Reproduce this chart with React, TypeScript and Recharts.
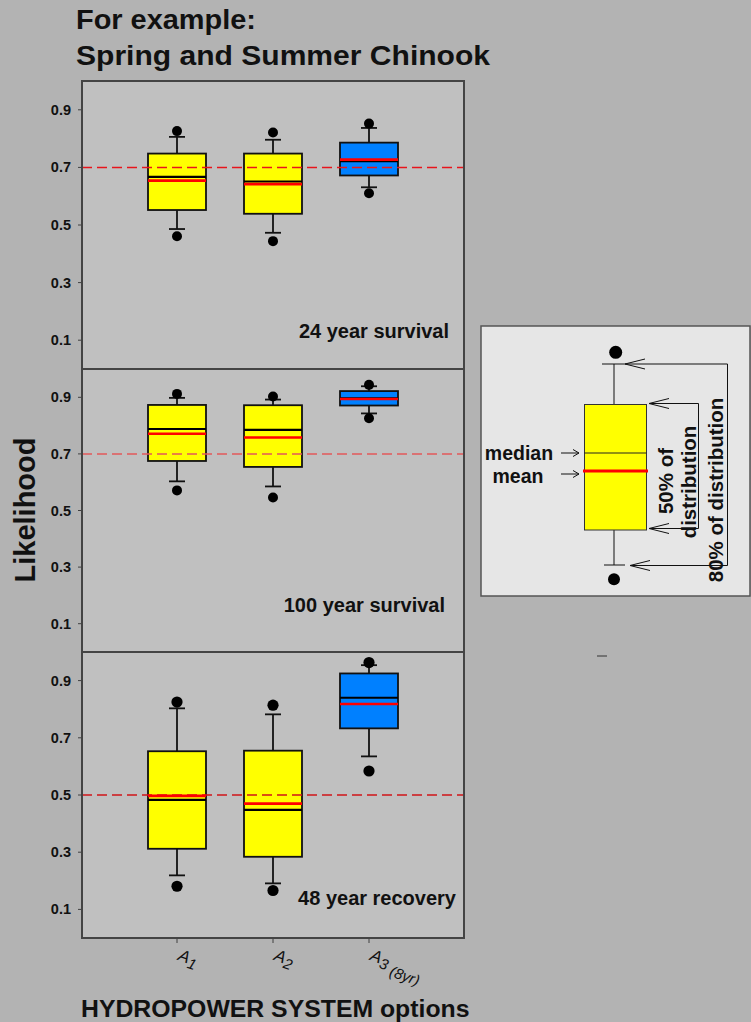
import { ComposedChart, Bar, Scatter, XAxis, YAxis, ReferenceLine } from "recharts"

// Drei gestapelte Boxplot-Panels (Chinook) mit Legenden-Schema rechts.

const FONT = '"Liberation Sans", Arial, Helvetica, sans-serif'

const categories = ["A1", "A2", "A3"]
const tickMain = ["A", "A", "A"]
const tickSub = ["1", "2", "3"]
const tickNote = ["", "", "(8yr)"]
const yTicks = [0.1, 0.3, 0.5, 0.7, 0.9]
const boxFill = ["#ffff00", "#ffff00", "#0080ff"]

// 24 year survival
const low24 = [0.486, 0.473, 0.631]
const q1_24 = [0.552, 0.539, 0.672]
const med24 = [0.667, 0.651, 0.722]
const mean24 = [0.654, 0.642, 0.727]
const q3_24 = [0.748, 0.748, 0.786]
const high24 = [0.806, 0.796, 0.837]
const outLo24 = [0.461, 0.444, 0.61]
const outHi24 = [0.826, 0.821, 0.852]

// 100 year survival
const low100 = [0.603, 0.585, 0.843]
const q1_100 = [0.675, 0.654, 0.871]
const med100 = [0.788, 0.785, 0.896]
const mean100 = [0.771, 0.758, 0.894]
const q3_100 = [0.873, 0.872, 0.922]
const high100 = [0.898, 0.892, 0.939]
const outLo100 = [0.571, 0.546, 0.826]
const outHi100 = [0.912, 0.903, 0.944]

// 48 year recovery
const low48 = [0.219, 0.191, 0.635]
const q1_48 = [0.312, 0.284, 0.733]
const med48 = [0.483, 0.448, 0.84]
const mean48 = [0.497, 0.47, 0.818]
const q3_48 = [0.653, 0.655, 0.925]
const high48 = [0.803, 0.782, 0.954]
const outLo48 = [0.181, 0.166, 0.584]
const outHi48 = [0.825, 0.814, 0.963]

function rows(low: number[], q1: number[], med: number[], mean: number[], q3: number[], high: number[], outLo: number[], outHi: number[]) {
  return categories.map((name, i) => ({
    name,
    base: low[i],
    lowW: q1[i] - low[i],
    box: q3[i] - q1[i],
    highW: high[i] - q3[i],
    median: med[i],
    mean: mean[i],
    outLo: outLo[i],
    outHi: outHi[i],
  }))
}

const panels = [
  { data: rows(low24, q1_24, med24, mean24, q3_24, high24, outLo24, outHi24), ref: 0.7, refColor: "#e8141b", top: 81, h: 288, label: "24 year survival", lx: 449, ly: 338, r: 5 },
  { data: rows(low100, q1_100, med100, mean100, q3_100, high100, outLo100, outHi100), ref: 0.7, refColor: "#e2585a", top: 369, h: 283, label: "100 year survival", lx: 445, ly: 612, r: 5 },
  { data: rows(low48, q1_48, med48, mean48, q3_48, high48, outLo48, outHi48), ref: 0.5, refColor: "#d01418", top: 652, h: 286, label: "48 year recovery", lx: 456, ly: 905, r: 5.6 },
]

const INK = "#111"
const CAP = 8
const HALF = 29

function LowWhisker(p: any) {
  const cx = p.x + p.width / 2
  return (
    <g stroke={INK} strokeWidth={1.8}>
      <line x1={cx} x2={cx} y1={p.y} y2={p.y + p.height} />
      <line x1={cx - CAP} x2={cx + CAP} y1={p.y + p.height} y2={p.y + p.height} />
    </g>
  )
}

function HighWhisker(p: any) {
  const cx = p.x + p.width / 2
  return (
    <g stroke={INK} strokeWidth={1.8}>
      <line x1={cx} x2={cx} y1={p.y} y2={p.y + p.height} />
      <line x1={cx - CAP} x2={cx + CAP} y1={p.y} y2={p.y} />
    </g>
  )
}

function BoxShape(p: any) {
  return <rect x={p.x} y={p.y} width={p.width} height={p.height} fill={boxFill[p.index]} stroke={INK} strokeWidth={1.8} />
}

function XTick(props: any) {
  const { x, y, payload } = props
  const i = categories.indexOf(payload.value)
  return (
    <g transform={`translate(${x},${y}) rotate(20)`}>
      <text x={5} y={14} fontFamily={FONT} fontStyle="italic" fontSize={17} fill={INK}>
        {tickMain[i]}
        <tspan dy={4} fontSize={15}>{tickSub[i]}</tspan>
        {tickNote[i] ? <tspan dx={4} dy={4} fontSize={15}>{tickNote[i]}</tspan> : null}
      </text>
    </g>
  )
}

function YTick(props: any) {
  const { x, y, payload } = props
  return (
    <text x={x} y={y} dy={5} textAnchor="end" fontFamily={FONT} fontSize={14.5} fontWeight={700} fill={INK}>
      {Number(payload.value).toFixed(1)}
    </text>
  )
}

function Panel({ p, last }: { p: (typeof panels)[number]; last: boolean }) {
  const dot = (s: any) => <circle cx={s.cx} cy={s.cy} r={p.r} fill="#000" />
  return (
    <div style={{ position: "absolute", left: 0, top: p.top }}>
      <ComposedChart width={470} height={p.h + (last ? 60 : 0)} data={p.data} margin={{ top: 0, right: 6, bottom: 0, left: 0 }}>
        <XAxis
          dataKey="name"
          hide={!last}
          height={60}
          padding={{ left: 47, right: 47 }}
          axisLine={false}
          tickLine={{ stroke: "#404040" }}
          tickSize={5}
          interval={0}
          tick={<XTick />}
        />
        <YAxis
          type="number"
          domain={[0, 1]}
          ticks={yTicks}
          width={82}
          axisLine={false}
          tickLine={{ stroke: "#404040" }}
          tickSize={4}
          tickMargin={7}
          tick={<YTick />}
        />
        <ReferenceLine y={p.ref} stroke={p.refColor} strokeDasharray="10 5" strokeWidth={1.5} />
        <Bar dataKey="base" stackId="b" barSize={58} fill="none" shape={() => <g />} isAnimationActive={false} />
        <Bar dataKey="lowW" stackId="b" barSize={58} shape={LowWhisker} isAnimationActive={false} />
        <Bar dataKey="box" stackId="b" barSize={58} shape={BoxShape} isAnimationActive={false} />
        <Bar dataKey="highW" stackId="b" barSize={58} shape={HighWhisker} isAnimationActive={false} />
        <Scatter dataKey="median" isAnimationActive={false}
          shape={(s: any) => <line x1={s.cx - HALF} x2={s.cx + HALF} y1={s.cy} y2={s.cy} stroke="#000" strokeWidth={2.2} />} />
        <Scatter dataKey="mean" isAnimationActive={false}
          shape={(s: any) => <line x1={s.cx - HALF} x2={s.cx + HALF} y1={s.cy} y2={s.cy} stroke="#ff0000" strokeWidth={2.6} />} />
        <Scatter dataKey="outLo" isAnimationActive={false} shape={dot} />
        <Scatter dataKey="outHi" isAnimationActive={false} shape={dot} />
      </ComposedChart>
    </div>
  )
}

function Arrow({ x, y, dir }: { x: number; y: number; dir: 1 | -1 }) {
  // offene Pfeilspitze, Spitze bei (x,y); dir=-1 zeigt nach links
  const b = x - dir * 20
  return <polyline points={`${b},${y - 5} ${x},${y} ${b},${y + 5}`} fill="none" stroke={INK} strokeWidth={1} />
}

export default function App() {
  return (
    <div style={{ position: "absolute", left: 0, top: 0, width: 751, height: 1022, background: "#b3b3b3", overflow: "hidden" }}>
      <svg width={751} height={1022} style={{ position: "absolute", left: 0, top: 0 }}>
        <rect x={82} y={81} width={382} height={857} fill="#c0c0c0" />
      </svg>
      {panels.map((p, i) => (
        <Panel key={p.label} p={p} last={i === panels.length - 1} />
      ))}
      <svg width={751} height={1022} style={{ position: "absolute", left: 0, top: 0, pointerEvents: "none" }} fontFamily={FONT}>
        <rect x={82} y={81} width={382} height={857} fill="none" stroke="#444" strokeWidth={2} />
        <line x1={82} x2={464} y1={369} y2={369} stroke="#444" strokeWidth={2} />
        <line x1={82} x2={464} y1={652} y2={652} stroke="#444" strokeWidth={2} />

        <text x={76} y={29} fontSize={27} fontWeight={700} fill={INK} textLength={180} lengthAdjust="spacingAndGlyphs">For example:</text>
        <text x={76} y={64.5} fontSize={27} fontWeight={700} fill={INK} textLength={414} lengthAdjust="spacingAndGlyphs">Spring and Summer Chinook</text>

        <text transform="translate(35,510) rotate(-90)" textAnchor="middle" fontSize={29} fontWeight={700} fill={INK}>Likelihood</text>
        <text x={81} y={1016.5} fontSize={24.8} fontWeight={700} fill={INK}>HYDROPOWER SYSTEM options</text>

        {panels.map((p) => (
          <text key={p.label} x={p.lx} y={p.ly} textAnchor="end" fontSize={20} fontWeight={700} fill={INK}>{p.label}</text>
        ))}

        {/* Legenden-Schema */}
        <rect x={481} y={326} width={269} height={270} fill="#e6e6e6" stroke="#555" strokeWidth={1.5} />
        <g stroke={INK} strokeWidth={1}>
          <line x1={614} x2={614} y1={364} y2={404} />
          <line x1={602} x2={625} y1={364} y2={364} />
          <line x1={614} x2={614} y1={530} y2={565} />
          <line x1={604} x2={625} y1={565} y2={565} />
        </g>
        <rect x={584.5} y={404.5} width={62} height={125.5} fill="#ffff00" stroke="#333" strokeWidth={1} />
        <line x1={584.5} x2={646.5} y1={453} y2={453} stroke="#222" strokeWidth={1} />
        <line x1={583} x2={648} y1={471} y2={471} stroke="#ff0000" strokeWidth={3} />
        <circle cx={615.7} cy={352.3} r={6.5} fill="#000" />
        <circle cx={614} cy={579.3} r={6} fill="#000" />

        <text x={519} y={460} textAnchor="middle" fontSize={19.5} fontWeight={700} fill={INK}>median</text>
        <text x={518} y={483} textAnchor="middle" fontSize={19.5} fontWeight={700} fill={INK}>mean</text>
        <g stroke={INK} strokeWidth={1} fill="none">
          <line x1={561} x2={579} y1={453} y2={453} />
          <polyline points="573,449.5 579,453 573,456.5" />
          <line x1={561} x2={579} y1={474} y2={474} />
          <polyline points="573,470.5 579,474 573,477.5" />

          <polyline points="649,403.5 698.5,403.5 698.5,528.5 649,528.5" />
          <polyline points="625,364 727.5,364 727.5,565.5 630,565.5" />
        </g>
        <Arrow x={649} y={403.5} dir={-1} />
        <Arrow x={649} y={528.5} dir={-1} />
        <Arrow x={625} y={364} dir={-1} />
        <Arrow x={630} y={565.5} dir={-1} />

        <text transform="translate(673,481) rotate(-90)" textAnchor="middle" fontSize={20.5} fontWeight={700} fill={INK}>50% of</text>
        <text transform="translate(696,482) rotate(-90)" textAnchor="middle" fontSize={20.5} fontWeight={700} fill={INK}>distribution</text>
        <text transform="translate(723,490) rotate(-90)" textAnchor="middle" fontSize={20.5} fontWeight={700} fill={INK}>80% of distribution</text>

        <line x1={597} x2={607} y1={656} y2={656} stroke="#333" strokeWidth={1} />
      </svg>
    </div>
  )
}
